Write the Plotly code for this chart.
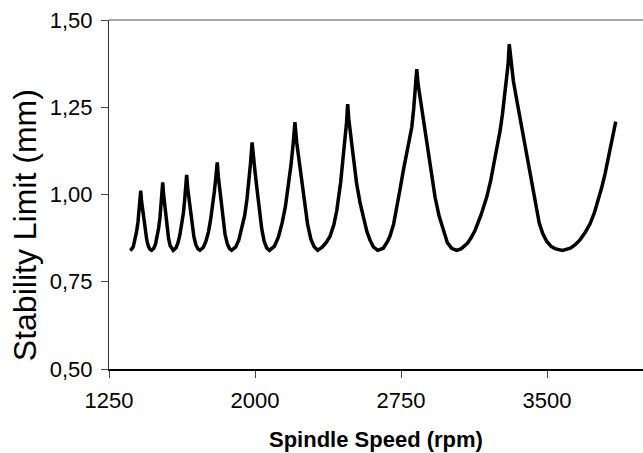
import plotly.graph_objects as go

# Spindle speed (rpm) and stability limit (mm)
speed_rpm = [
    1358, 1366, 1375, 1385, 1392, 1399, 1405, 1409, 1413,
    1417, 1424, 1431, 1438, 1444, 1452, 1460, 1469,
    1480, 1489, 1497, 1505, 1512, 1517, 1522, 1526,
    1530, 1537, 1544, 1550, 1556, 1564, 1572, 1580,
    1594, 1604, 1614, 1623, 1632, 1638, 1644, 1649,
    1654, 1662, 1671, 1679, 1686, 1696, 1707, 1717,
    1735, 1748, 1761, 1772, 1783, 1791, 1799, 1806,
    1812, 1821, 1830, 1839, 1846, 1858, 1869, 1880,
    1901, 1917, 1932, 1947, 1959, 1969, 1977, 1985,
    1992, 2000, 2014, 2025, 2035, 2047, 2060, 2074,
    2100, 2120, 2139, 2156, 2172, 2185, 2196, 2205,
    2214, 2224, 2240, 2257, 2270, 2287, 2304, 2322,
    2345, 2365, 2385, 2405, 2420, 2440, 2452, 2462, 2470, 2476,
    2482, 2497, 2510, 2522, 2540, 2556, 2575, 2591, 2608, 2630,
    2659, 2680, 2693, 2712, 2730, 2745, 2762, 2780, 2797, 2805, 2815, 2823, 2831,
    2838, 2848, 2860, 2870, 2882, 2895, 2910, 2925, 2945, 2967, 2988, 3010, 3036,
    3060, 3091, 3110, 3130, 3160, 3190, 3210, 3228, 3245, 3259, 3271, 3281, 3292, 3300, 3306,
    3315, 3327, 3344, 3361, 3378, 3396, 3413, 3430, 3445, 3460, 3478, 3498, 3520, 3540, 3579,
    3620, 3645, 3669, 3695, 3721, 3743, 3764, 3781, 3798, 3813, 3827, 3840, 3853,
]
stability_mm = [
    0.840, 0.843, 0.851, 0.872, 0.895, 0.922, 0.952, 0.979, 1.011,
    0.982, 0.952, 0.922, 0.893, 0.870, 0.852, 0.843, 0.840,
    0.846, 0.858, 0.878, 0.904, 0.935, 0.965, 1.000, 1.035,
    1.002, 0.968, 0.933, 0.900, 0.874, 0.854, 0.844, 0.840,
    0.847, 0.861, 0.884, 0.912, 0.946, 0.980, 1.017, 1.056,
    1.019, 0.982, 0.944, 0.907, 0.879, 0.856, 0.844, 0.840,
    0.849, 0.866, 0.893, 0.928, 0.966, 1.008, 1.050, 1.092,
    1.049, 1.006, 0.962, 0.918, 0.886, 0.858, 0.845, 0.840,
    0.850, 0.870, 0.902, 0.940, 0.988, 1.040, 1.090, 1.149,
    1.105, 1.066, 0.998, 0.948, 0.900, 0.866, 0.847, 0.840,
    0.852, 0.878, 0.918, 0.965, 1.025, 1.085, 1.145, 1.207,
    1.150, 1.110, 1.045, 0.968, 0.915, 0.872, 0.850, 0.840,
    0.849, 0.862, 0.880, 0.913, 0.954, 1.035, 1.098, 1.160, 1.205, 1.259,
    1.215, 1.145, 1.085, 1.031, 0.975, 0.932, 0.893, 0.869, 0.850, 0.840,
    0.846, 0.865, 0.880, 0.915, 0.965, 1.015, 1.069, 1.120, 1.170, 1.192, 1.245, 1.295, 1.359,
    1.315, 1.278, 1.228, 1.183, 1.135, 1.088, 1.038, 0.992, 0.940, 0.897, 0.862, 0.846, 0.840,
    0.845, 0.860, 0.876, 0.897, 0.940, 0.992, 1.038, 1.088, 1.136, 1.183, 1.230, 1.278, 1.330, 1.373, 1.431,
    1.380, 1.326, 1.272, 1.221, 1.168, 1.116, 1.062, 1.005, 0.958, 0.918, 0.888, 0.866, 0.852, 0.845, 0.840,
    0.846, 0.856, 0.870, 0.890, 0.916, 0.947, 0.983, 1.020, 1.059, 1.097, 1.135, 1.172, 1.209,
]

x_ticks = [1250, 2000, 2750, 3500]
y_ticks = [0.50, 0.75, 1.00, 1.25, 1.50]

fig = go.Figure()
fig.add_trace(go.Scatter(
    x=speed_rpm, y=stability_mm, mode="lines",
    line=dict(color="black", width=3.5),
    showlegend=False, hoverinfo="skip",
))

fig.update_layout(
    width=643, height=453,
    margin=dict(l=109, r=0, t=20, b=84),
    paper_bgcolor="white", plot_bgcolor="white",
    separators=",.",
    font=dict(family="Liberation Sans, Arial, sans-serif", color="black"),
    xaxis=dict(
        range=[1250, 3993], tickvals=x_ticks, ticktext=[str(v) for v in x_ticks],
        showgrid=False, zeroline=False,
        showline=True, linecolor="black", linewidth=2,
        ticks="outside", ticklen=7, tickwidth=1, tickcolor="#444",
        tickfont=dict(size=22), ticklabelstandoff=4,
    ),
    yaxis=dict(
        range=[0.5, 1.5], tickvals=y_ticks, tickformat=".2f",
        showgrid=False, zeroline=False,
        showline=True, linecolor="#333", linewidth=1.2,
        ticks="outside", ticklen=7, tickwidth=1, tickcolor="#444",
        tickfont=dict(size=22), ticklabelstandoff=4,
    ),
    shapes=[dict(type="line", xref="paper", yref="paper", x0=0, x1=1, y0=1, y1=1,
                 line=dict(color="#888", width=1.5))],
    annotations=[
        dict(text="<b>Spindle Speed (rpm)</b>", xref="paper", yref="paper",
             x=0.5, y=-0.2006, xanchor="center", yanchor="middle",
             showarrow=False, font=dict(size=22)),
        dict(text="Stability Limit (mm)", xref="paper", yref="paper",
             x=-0.157, y=0.4126, xanchor="center", yanchor="middle",
             textangle=-90, showarrow=False, font=dict(size=32)),
    ],
)

fig.write_html("out.html")
